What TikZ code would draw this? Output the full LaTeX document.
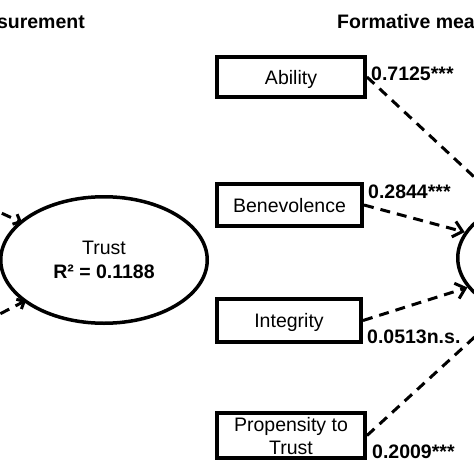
\documentclass[tikz,border=0pt]{standalone}
\usepackage{fontspec}
\setmainfont{Liberation Sans}
\usetikzlibrary{shapes.geometric,arrows.meta,backgrounds}
\begin{document}
\begin{tikzpicture}[x=1pt,y=-1pt,
  box/.style={draw, line width=4pt, inner sep=0pt, text depth=0pt,
    font=\fontsize{19.5}{23}\selectfont, align=center, fill=white},
  lat/.style={draw, ellipse, line width=3.5pt, minimum width=206.5pt,
    minimum height=126.5pt, inner sep=0pt, text depth=0pt,
    font=\fontsize{19.5}{24}\selectfont, align=center, fill=white},
  pathline/.style={line width=3pt, dash pattern=on 10pt off 7pt,
    -{Straight Barb[length=9pt,width=16pt]}},
  inline/.style={line width=3pt, dash pattern=on 10pt off 7pt,
    -{Straight Barb[length=6pt,width=11pt]}, shorten >=-3pt},
  coef/.style={font=\bfseries\fontsize{19.5}{23}\selectfont, inner sep=0pt, anchor=base west},
  hdr/.style={font=\bfseries\fontsize{19.5}{23}\selectfont, inner sep=0pt}
]
\useasboundingbox (0,0) rectangle (474,474);

% headers
\node[hdr, anchor=base east] (h1) at (85,28) {surement};
\node[hdr, anchor=base west] (h2) at (337,28) {Formative mea};

% latent variables
\node[lat] (trust) at (104,260) {Trust\\\textbf{R² = 0.1188}};
\node[lat] (form) at (561,258) {};

% indicators
\node[box, minimum width=148pt, minimum height=40pt] (ability) at (291,77) {Ability};
\node[box, minimum width=145pt, minimum height=42pt] (benev) at (289.5,205) {Benevolence};
\node[box, minimum width=144pt, minimum height=43pt] (integ) at (289,320.5) {Integrity};
\node[box, minimum width=148pt, minimum height=45pt] (prop) at (291,435.5) {Propensity to\\Trust};

% coefficients
\node[coef] (c1) at (371,80) {0.7125***};
\node[coef] (c2) at (368,198) {0.2844***};
\node[coef] (c3) at (367,343) {0.0513n.s.};
\node[coef] (c4) at (372,458) {0.2009***};

% paths
\draw[pathline] (ability.east) -- (form);
\draw[pathline] (benev.east) -- (form);
\draw[pathline] (integ.east) -- (form);
\draw[pathline] (prop.east) -- (form);

\coordinate (in1) at (-60,185);
\coordinate (in2) at (-60,345);
\begin{scope}[on background layer]
\draw[inline] (in1) -- (trust);
\draw[inline] (in2) -- (trust);
\end{scope}
\end{tikzpicture}
\end{document}
